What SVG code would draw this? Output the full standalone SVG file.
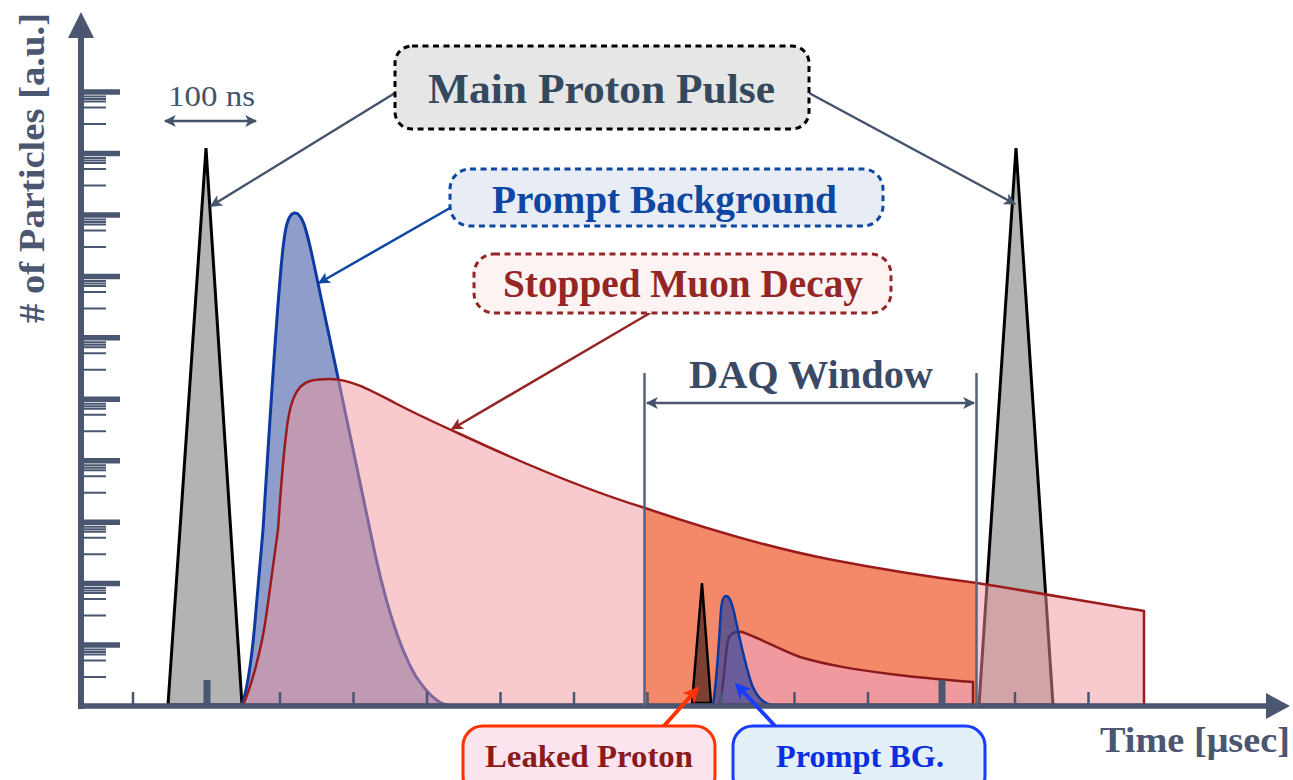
<svg xmlns="http://www.w3.org/2000/svg" width="1293" height="780" viewBox="0 0 1293 780">
<style>
text{font-family:"Liberation Serif","DejaVu Serif",serif;font-weight:bold}
.lbl{text-anchor:middle}
.axis{stroke:#4b5670;fill:none}
.box{stroke-width:3;stroke-dasharray:6 4.5}
.tri{fill:#b3b3b3;stroke:#000;stroke-width:3;stroke-linejoin:miter}
</style>
<defs>
<marker id="ahGray" viewBox="0 0 10 10" refX="9" refY="5" markerWidth="15" markerHeight="12" markerUnits="userSpaceOnUse" orient="auto-start-reverse"><path d="M0,0 L10,5 L0,10 L2.5,5 Z" fill="#44546a"/></marker>
<marker id="ahBlue" viewBox="0 0 10 10" refX="9" refY="5" markerWidth="15" markerHeight="12" markerUnits="userSpaceOnUse" orient="auto"><path d="M0,0 L10,5 L0,10 L2.5,5 Z" fill="#0d47a1"/></marker>
<marker id="ahRed" viewBox="0 0 10 10" refX="9" refY="5" markerWidth="15" markerHeight="12" markerUnits="userSpaceOnUse" orient="auto"><path d="M0,0 L10,5 L0,10 L2.5,5 Z" fill="#952626"/></marker>
<marker id="ahOrange" viewBox="0 0 10 10" refX="8" refY="5" markerWidth="17" markerHeight="16" markerUnits="userSpaceOnUse" orient="auto"><path d="M0,0 L10,5 L0,10 L2.5,5 Z" fill="#ff3300"/></marker>
<marker id="ahBright" viewBox="0 0 10 10" refX="8" refY="5" markerWidth="17" markerHeight="16" markerUnits="userSpaceOnUse" orient="auto"><path d="M0,0 L10,5 L0,10 L2.5,5 Z" fill="#1a3cff"/></marker>
<clipPath id="daqClip"><rect x="644.5" y="0" width="332" height="706"/></clipPath>
<path id="decayShape" d="M243,705 C250,690 262,650 267,610 L278,530 C280,500 283,460 286,435 C289,405 295,385 310,381 C318,379 322,379 330,379 C350,379 370,390 395,403 C420,416 440,425 460,434 C520,462 580,488 645,508 C710,530 770,548 833,560 C880,569 930,577 977,583 C1040,593 1100,604 1144,611 L1144,705 Z"/>
</defs>

<g id="main-pulse-left"><path class="tri" d="M168,705 L206,148 L242,705 Z"/></g>
<g id="main-pulse-right"><path class="tri" d="M979,705 L1016,148 L1053,705 Z"/></g>

<g id="prompt-background-peak">
<path d="M242,705 C247,690 252,660 256,610 L263,530 C268,450 274,350 280,280 C284,230 287,213 295,213 C302,213 306,228 312,255 L337,373 L370,530 C380,580 395,640 415,675 C428,695 438,703 447,705 Z" fill="#8e9dc9" stroke="#0d3aa0" stroke-width="3"/>
</g>

<g id="stopped-muon-decay">
<use href="#decayShape" fill="#f1959b" fill-opacity="0.5"/>
<use href="#decayShape" fill="#f4896a" clip-path="url(#daqClip)"/>
</g>

<g id="window-signals">
<path id="small-decay" d="M720,705 C724,680 726,650 728,640 C730,633 735,631 742,632 C760,638 780,650 800,657 C830,666 860,670 890,674 C920,678 950,680 973,682 L973,705 Z" fill="#f0999e" stroke="#8b1a1a" stroke-width="2.5"/>
<path id="leaked-proton-peak" d="M692,703 L702,583 L711,703 Z" fill="#7b4031" stroke="#000" stroke-width="2.5"/>
<path id="prompt-bg-peak" d="M713,705 C717,680 719,640 721,610 C722,598 724,596 726,596 C729,596 731,600 734,612 C740,640 745,665 752,685 C757,697 764,704 772,705 Z" fill="#314295" fill-opacity="0.7" stroke="#0a3aa0" stroke-width="2.5"/>
</g>

<g id="decay-outline">
<use href="#decayShape" fill="none" stroke="#9b1c1c" stroke-width="2.5"/>
</g>

<g id="axes">
<path class="axis" stroke-width="6" d="M81,30 V709"/>
<path fill="#4b5670" d="M81,12 L94,38 L68,38 Z"/>
<path class="axis" stroke-width="5.5" d="M78,706 H1270"/>
<path fill="#4b5670" d="M1290,706 L1266,693 L1266,719 Z"/>
<path class="axis" stroke-width="5.5" d="M84,92H120M84,153.5H120M84,214.9H120M84,276.4H120M84,337.8H120M84,399.3H120M84,460.7H120M84,522.2H120M84,583.6H120M84,645H120"/>
<path class="axis" stroke-width="2" d="M84,96.5H106M84,99H106M84,101.5H106M84,107.5H106M84,124H106M84,158H106M84,160.5H106M84,163H106M84,169H106M84,185.5H106M84,219.4H106M84,221.9H106M84,224.4H106M84,230.4H106M84,246.9H106M84,280.9H106M84,283.4H106M84,285.9H106M84,291.9H106M84,308.4H106M84,342.3H106M84,344.8H106M84,347.3H106M84,353.3H106M84,369.8H106M84,403.8H106M84,406.3H106M84,408.8H106M84,414.8H106M84,431.3H106M84,465.2H106M84,467.7H106M84,470.2H106M84,476.2H106M84,492.7H106M84,526.7H106M84,529.2H106M84,531.7H106M84,537.7H106M84,554.2H106M84,588.1H106M84,590.6H106M84,593.1H106M84,599.1H106M84,615.6H106M84,649.5H106M84,652H106M84,654.5H106M84,660.5H106M84,677H106"/>
<path class="axis" stroke-width="2.5" d="M133,692V706M280,692V706M353.5,692V706M427,692V706M500.5,692V706M574,692V706M647.5,692V706M721,692V706M794.5,692V706M868,692V706M1015,692V706M1088.5,692V706"/>
<path class="axis" stroke-width="7" d="M207,680V706M942,680V706"/>
<text transform="translate(44,168) rotate(-90)" class="lbl" font-size="35" fill="#4b5670" textLength="310" lengthAdjust="spacingAndGlyphs"># of Particles [a.u.]</text>
<text x="1100" y="752" font-size="36" fill="#4b5670" textLength="190" lengthAdjust="spacingAndGlyphs">Time [μsec]</text>
</g>

<g id="scale-100ns">
<path d="M165,121 H256" stroke="#44546a" stroke-width="2.5" marker-start="url(#ahGray)" marker-end="url(#ahGray)"/>
<text x="168" y="106" font-size="30" style="font-weight:normal" fill="#44546a" textLength="87" lengthAdjust="spacingAndGlyphs">100 ns</text>
</g>

<g id="daq-window">
<path d="M644.5,373V706M976.5,373V706" stroke="#5a6478" stroke-width="2.5"/>
<path d="M647,403 H974" stroke="#4b5670" stroke-width="2.5" marker-start="url(#ahGray)" marker-end="url(#ahGray)"/>
<text x="811" y="388" class="lbl" font-size="39" fill="#3a4a64" textLength="244" lengthAdjust="spacingAndGlyphs">DAQ Window</text>
</g>

<g id="connectors" fill="none">
<path d="M395,93 L211,206" stroke="#44546a" stroke-width="2.5" marker-end="url(#ahGray)"/>
<path d="M809,93 L1015,204" stroke="#44546a" stroke-width="2.5" marker-end="url(#ahGray)"/>
<path d="M450,208 L319,283" stroke="#0d47a1" stroke-width="2.5" marker-end="url(#ahBlue)"/>
<path d="M650,313 L452,429" stroke="#952626" stroke-width="2.5" marker-end="url(#ahRed)"/>
<path d="M663,727 L697,689" stroke="#ff3300" stroke-width="4" marker-end="url(#ahOrange)"/>
<path d="M776,727 L737,685" stroke="#1a3cff" stroke-width="4" marker-end="url(#ahBright)"/>
</g>

<g id="label-main-proton-pulse">
<rect x="395" y="46" width="414" height="83" rx="17" class="box" fill="#e6e6e6" stroke="#000"/>
<text x="601.5" y="103" class="lbl" font-size="42" fill="#34495e" textLength="347" lengthAdjust="spacingAndGlyphs">Main Proton Pulse</text>
</g>
<g id="label-prompt-background">
<rect x="450" y="169" width="433" height="57" rx="20" class="box" fill="#e8ecf5" stroke="#0d47a1"/>
<text x="664.5" y="213" class="lbl" font-size="39" fill="#0d47a1" textLength="345" lengthAdjust="spacingAndGlyphs">Prompt Background</text>
</g>
<g id="label-stopped-muon-decay">
<rect x="474" y="254" width="417" height="59" rx="20" class="box" fill="#fdf3f3" stroke="#952626"/>
<text x="683" y="297" class="lbl" font-size="39" fill="#952626" textLength="360" lengthAdjust="spacingAndGlyphs">Stopped Muon Decay</text>
</g>
<g id="label-leaked-proton">
<rect x="463" y="726" width="252" height="70" rx="20" fill="#fce4ef" stroke="#ff3300" stroke-width="3"/>
<text x="589" y="767" class="lbl" font-size="31" fill="#8b1a1a" textLength="208" lengthAdjust="spacingAndGlyphs">Leaked Proton</text>
</g>
<g id="label-prompt-bg">
<rect x="733" y="726" width="252" height="70" rx="20" fill="#e3f0f8" stroke="#1a3cff" stroke-width="3"/>
<text x="860" y="767" class="lbl" font-size="31" fill="#0a2ee0" textLength="168" lengthAdjust="spacingAndGlyphs">Prompt BG.</text>
</g>
</svg>
